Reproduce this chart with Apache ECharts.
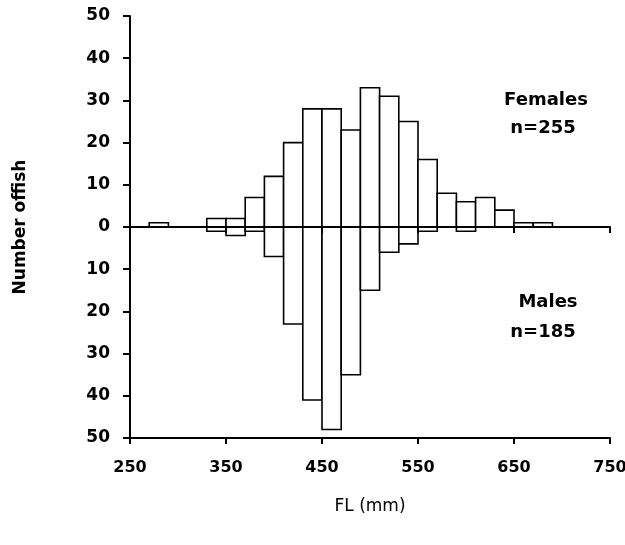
<!DOCTYPE html>
<html>
<head>
<meta charset="utf-8">
<script src="https://cdn.jsdelivr.net/npm/echarts@6/dist/echarts.min.js"></script>
<style>html,body{margin:0;padding:0;background:#fff}#c{width:625px;height:545px}</style>
</head>
<body>
<div id="c"></div>
<script>
const binStarts = [270,290,310,330,350,370,390,410,430,450,470,490,510,530,550,570,590,610,630,650,670,690];
const binWidth = 20;
const females = [1,0,0,2,2,7,12,20,28,28,23,33,31,25,16,8,6,7,4,1,1,0];
const males   = [0,0,0,1,2,1,7,23,41,48,35,15,6,4,1,0,1,0,0,0,0,0];
const xTicks = [250,350,450,550,650,750];
const yTicks = [-50,-40,-30,-20,-10,0,10,20,30,40,50];

const chart = echarts.init(document.getElementById('c'), null, {renderer:'canvas'});
const FONT = '"DejaVu Sans", sans-serif';

function renderBar(params, api) {
  const x0 = api.value(0), v = api.value(1);
  if (!v) return null;
  const p1 = api.coord([x0, 0]);
  const p2 = api.coord([x0 + binWidth, v]);
  return {
    type: 'rect',
    shape: {x: p1[0], y: Math.min(p1[1], p2[1]), width: p2[0] - p1[0], height: Math.abs(p2[1] - p1[1])},
    style: {fill: '#fff', stroke: '#000', lineWidth: 1.6}
  };
}

const fData = binStarts.map((b, i) => [b, females[i]]);
const mData = binStarts.map((b, i) => [b, -males[i]]);

chart.setOption({
  animation: false,
  grid: {left: 130, right: 15, top: 16, bottom: 107, containLabel: false, outerBoundsMode: 'none'},
  xAxis: [{
    type: 'value', min: xTicks[0], max: xTicks[xTicks.length-1], interval: 100,
    position: 'bottom',
    name: 'FL (mm)', nameLocation: 'middle', nameGap: 60,
    nameTextStyle: {fontFamily: FONT, fontSize: 17, color: '#000'},
    axisLine: {onZero: false, lineStyle: {color: '#000', width: 2}},
    axisTick: {show: true, length: 6, lineStyle: {color: '#000', width: 2}},
    axisLabel: {fontFamily: FONT, fontSize: 16, fontWeight: 'bold', color: '#000', margin: 22},
    splitLine: {show: false}
  }, {
    type: 'value', min: xTicks[0], max: xTicks[xTicks.length-1], interval: 100,
    position: 'bottom', z: 5,
    axisLine: {onZero: true, lineStyle: {color: '#000', width: 2}},
    axisTick: {show: true, length: 6, lineStyle: {color: '#000', width: 2}},
    axisLabel: {show: false},
    splitLine: {show: false}
  }],
  yAxis: {
    type: 'value', min: yTicks[0], max: yTicks[yTicks.length-1], interval: 10,
    name: 'Number offish', nameLocation: 'middle', nameGap: 101, nameRotate: 90,
    nameTextStyle: {fontFamily: FONT, fontSize: 17, fontWeight: 'bold', color: '#000'},
    axisLine: {show: true, lineStyle: {color: '#000', width: 2}},
    axisTick: {show: true, length: 7, lineStyle: {color: '#000', width: 2}},
    axisLabel: {fontFamily: FONT, fontSize: 17, fontWeight: 'bold', color: '#000', margin: 20,
      formatter: v => String(Math.abs(v))},
    splitLine: {show: false}
  },
  graphic: [
    {type: 'text', x: 546, y: 100, style: {text: 'Females', font: 'bold 18px ' + FONT, fill: '#000', align: 'center', verticalAlign: 'middle'}},
    {type: 'text', x: 543, y: 128, style: {text: 'n=255', font: 'bold 18px ' + FONT, fill: '#000', align: 'center', verticalAlign: 'middle'}},
    {type: 'text', x: 548, y: 302, style: {text: 'Males', font: 'bold 18px ' + FONT, fill: '#000', align: 'center', verticalAlign: 'middle'}},
    {type: 'text', x: 543, y: 332, style: {text: 'n=185', font: 'bold 18px ' + FONT, fill: '#000', align: 'center', verticalAlign: 'middle'}}
  ],
  series: [
    {type: 'custom', name: 'Females', renderItem: renderBar, data: fData, encode: {x: 0, y: 1}},
    {type: 'custom', name: 'Males', renderItem: renderBar, data: mData, encode: {x: 0, y: 1}}
  ]
});
</script>
</body>
</html>
